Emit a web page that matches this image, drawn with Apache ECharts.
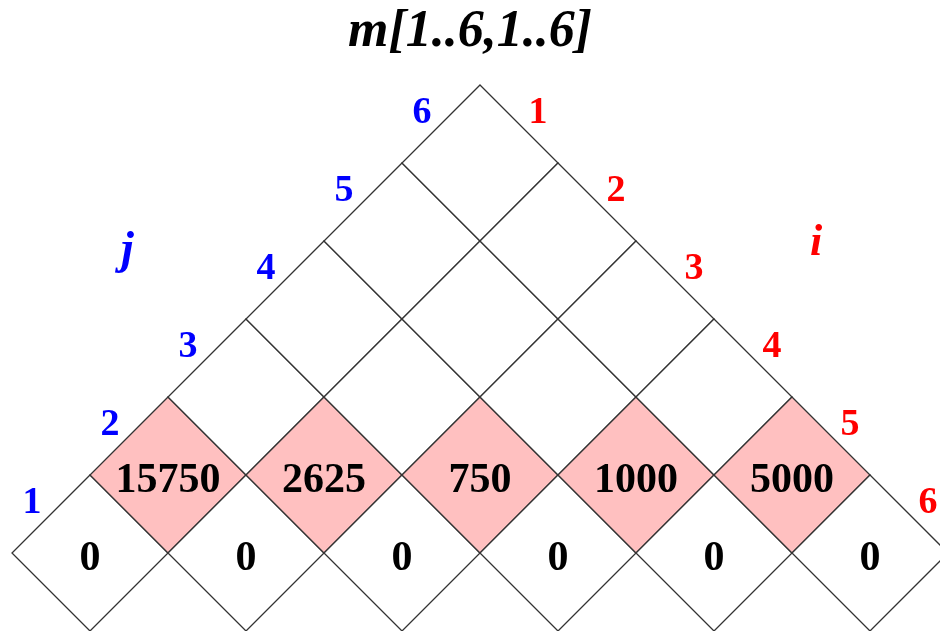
<!DOCTYPE html>
<html>
<head>
<meta charset="utf-8">
<script src="https://cdn.jsdelivr.net/npm/echarts@6/dist/echarts.min.js"></script>
<style>
  html, body { margin: 0; padding: 0; background: #fff; }
  #chart { width: 940px; height: 631px; }
</style>
</head>
<body>
<div id="chart"></div>
<script>
// 矩阵链乘法 m[i,j] 三角表
const idx = [1, 2, 3, 4, 5, 6];
const jLabels = ['1', '2', '3', '4', '5', '6'];
const iLabels = ['1', '2', '3', '4', '5', '6'];
const mDiag = [0, 0, 0, 0, 0, 0];                 // m[i,i]
const mNext = [15750, 2625, 750, 1000, 5000];      // m[i,i+1]

const SERIF = '"Liberation Serif", "DejaVu Serif", serif';

// 单元格: x = i+j, y = j-i
const cells = [];
idx.forEach(i => {
    idx.forEach(j => {
        if (j < i) return;
        let v = null;
        if (j === i) v = mDiag[i - 1];
        else if (j === i + 1) v = mNext[i - 1];
        cells.push([i + j, j - i, v, i, j]);
    });
});

// 左侧 j 标签挂在 (1,j) 单元格, 右侧 i 标签挂在 (i,6) 单元格
const jPts = idx.map(k => ({ value: [1 + k, k - 1], name: jLabels[k - 1] }));
const iPts = idx.map(k => ({ value: [k + 6, 6 - k], name: iLabels[k - 1] }));

const chart = echarts.init(document.getElementById('chart'));
chart.setOption({
    animation: false,
    backgroundColor: '#fff',
    title: {
        text: 'm[1..6,1..6]',
        left: 'center',
        top: 2,
        textStyle: {
            fontFamily: SERIF,
            fontStyle: 'italic',
            fontWeight: 'bold',
            fontSize: 52,
            color: '#000'
        }
    },
    grid: { left: 0, right: 0, top: 0, bottom: 0 },
    xAxis: { type: 'value', min: 2 - 90 / 78, max: 2 - 90 / 78 + 940 / 78, show: false },
    yAxis: { type: 'value', min: -1, max: -1 + 631 / 78, show: false },
    graphic: [
        { type: 'text', left: 121, top: 228, style: { text: 'j', font: 'italic bold 46px ' + SERIF, fill: '#0000ff' } },
        { type: 'text', left: 810, top: 222, style: { text: 'i', font: 'italic bold 44px ' + SERIF, fill: '#ff0000' } }
    ],
    series: [
        {
            type: 'custom',
            data: cells,
            encode: { x: 0, y: 1 },
            renderItem(params, api) {
                const c = api.coord([api.value(0), api.value(1)]);
                const s = api.size([1, 1]);
                const hw = s[0], hh = s[1];
                const row = api.value(1);
                const v = api.value(2);
                const children = [{
                    type: 'polygon',
                    shape: { points: [[c[0], c[1] - hh], [c[0] + hw, c[1]], [c[0], c[1] + hh], [c[0] - hw, c[1]]] },
                    style: { fill: row === 1 ? '#ffc0c0' : '#ffffff', stroke: '#333333', lineWidth: 1.3 }
                }];
                if (v !== null && !isNaN(v)) {
                    children.push({
                        type: 'text',
                        style: {
                            text: String(v),
                            x: c[0], y: c[1] + 6,
                            align: 'center', verticalAlign: 'middle',
                            font: 'bold 42px ' + SERIF,
                            fill: '#000'
                        }
                    });
                }
                return { type: 'group', children };
            }
        },
        {
            type: 'scatter',
            data: jPts,
            symbolSize: 0,
            silent: true,
            itemStyle: { opacity: 1 },
            label: {
                show: true, formatter: '{b}', offset: [-58, -50],
                fontFamily: SERIF, fontWeight: 'bold', fontSize: 38, color: '#0000ff'
            }
        },
        {
            type: 'scatter',
            data: iPts,
            symbolSize: 0,
            silent: true,
            itemStyle: { opacity: 1 },
            label: {
                show: true, formatter: '{b}', offset: [58, -50],
                fontFamily: SERIF, fontWeight: 'bold', fontSize: 38, color: '#ff0000'
            }
        }
    ]
});
</script>
</body>
</html>
